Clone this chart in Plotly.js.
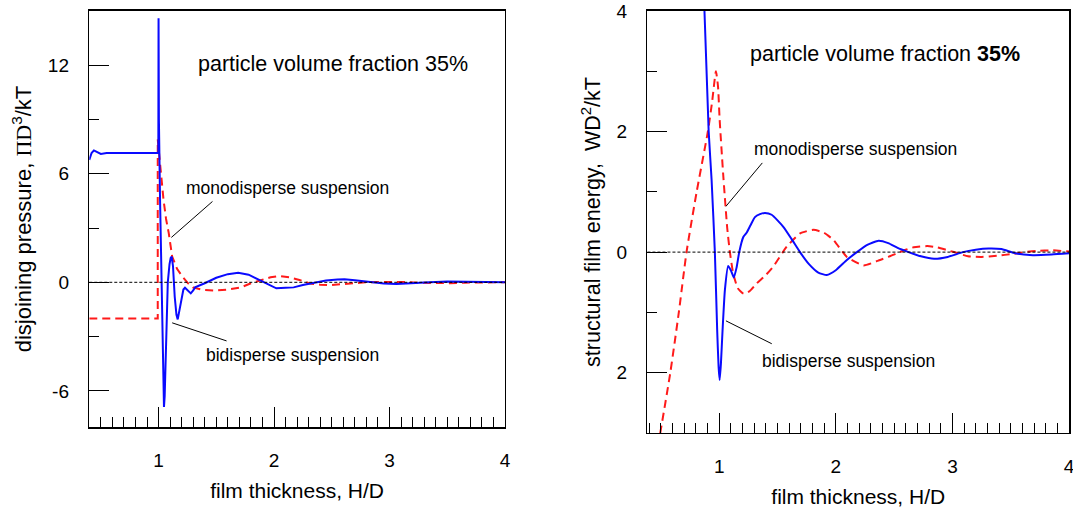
<!DOCTYPE html>
<html>
<head>
<meta charset="utf-8">
<script src="https://cdn.plot.ly/plotly-3.0.1.min.js"></script>
<style>html,body{margin:0;padding:0;background:#fff;}#chart{width:1073px;height:513px;}</style>
</head>
<body>
<div id="chart"></div>
<script>
// ---- Left panel: disjoining pressure ----
const leftBiX = [0.40, 0.42, 0.44, 0.47, 0.50, 0.55, 0.70, 0.85, 0.998, 1.0, 1.003, 1.013, 1.025, 1.035, 1.043, 1.047, 1.053, 1.065, 1.08, 1.095, 1.105, 1.114, 1.125, 1.14, 1.155, 1.166, 1.18, 1.20, 1.215, 1.229, 1.25, 1.279, 1.30, 1.316, 1.40, 1.50, 1.60, 1.69, 1.78, 1.85, 1.91, 1.97, 2.02, 2.10, 2.17, 2.25, 2.34, 2.45, 2.55, 2.61, 2.70, 2.85, 2.95, 3.06, 3.20, 3.35, 3.50, 3.60, 3.75, 3.90, 4.00];
const leftBiY = [6.77, 7.15, 7.29, 7.18, 7.10, 7.15, 7.15, 7.15, 7.15, 14.6, 9.0, 4.56, 0.0, -4.0, -6.3, -6.89, -6.3, -3.0, 0.0, 1.0, 1.35, 1.42, 0.9, -0.8, -1.8, -2.05, -1.6, -0.8, -0.4, -0.30, -0.45, -0.61, -0.45, -0.28, -0.05, 0.25, 0.45, 0.53, 0.42, 0.20, 0.0, -0.20, -0.33, -0.30, -0.28, -0.15, -0.02, 0.10, 0.16, 0.17, 0.12, 0.0, -0.07, -0.09, -0.06, 0.0, 0.05, 0.04, 0.0, -0.02, 0.0];
const leftMonoX = [0.40, 0.993, 0.993, 1.007, 1.025, 1.043, 1.065, 1.088, 1.118, 1.16, 1.207, 1.25, 1.297, 1.38, 1.475, 1.60, 1.714, 1.80, 1.893, 1.97, 2.042, 2.13, 2.22, 2.31, 2.40, 2.49, 2.61, 2.70, 2.79, 2.90, 3.00, 3.12, 3.25, 3.38, 3.52, 3.65, 3.80, 3.90, 4.00];
const leftMonoY = [-2.0, -2.0, 7.9, 6.96, 5.7, 4.56, 3.5, 2.73, 1.42, 0.75, 0.31, -0.02, -0.28, -0.42, -0.46, -0.40, -0.28, -0.05, 0.13, 0.28, 0.35, 0.28, 0.13, -0.06, -0.13, -0.15, -0.09, -0.04, 0.0, 0.02, 0.03, 0.02, -0.02, -0.04, -0.05, -0.02, 0.01, 0.0, 0.0];

// ---- Right panel: structural film energy ----
const rightBiX = [0.873, 0.91, 0.935, 0.963, 0.983, 0.995, 1.004, 1.015, 1.029, 1.049, 1.077, 1.10, 1.126, 1.15, 1.172, 1.207, 1.235, 1.27, 1.307, 1.35, 1.393, 1.45, 1.55, 1.62, 1.693, 1.77, 1.85, 1.923, 2.0, 2.095, 2.181, 2.27, 2.367, 2.45, 2.53, 2.624, 2.73, 2.843, 2.96, 3.09, 3.2, 3.31, 3.42, 3.54, 3.69, 3.85, 4.0];
const rightBiY = [4.05, 2.0, 1.2, 0.0, -1.3, -1.9, -2.12, -1.85, -1.30, -0.63, -0.23, -0.30, -0.42, -0.25, 0.0, 0.25, 0.32, 0.45, 0.58, 0.63, 0.65, 0.62, 0.42, 0.22, 0.0, -0.2, -0.34, -0.38, -0.3, -0.13, 0.0, 0.12, 0.19, 0.15, 0.07, 0.0, -0.07, -0.11, -0.08, 0.0, 0.04, 0.06, 0.05, -0.02, -0.05, -0.04, -0.02];
const rightMonoX = [0.494, 0.581, 0.654, 0.72, 0.807, 0.903, 0.94, 0.972, 0.99, 1.004, 1.034, 1.069, 1.092, 1.12, 1.16, 1.209, 1.26, 1.321, 1.40, 1.464, 1.579, 1.694, 1.808, 1.90, 1.98, 2.095, 2.238, 2.38, 2.45, 2.522, 2.60, 2.668, 2.784, 2.87, 2.959, 3.05, 3.134, 3.25, 3.38, 3.52, 3.62, 3.72, 3.86, 4.0];
const rightMonoY = [-3.01, -2.0, -1.0, 0.0, 1.0, 2.0, 2.5, 3.0, 2.75, 2.2, 1.3, 0.4, 0.0, -0.35, -0.6, -0.69, -0.65, -0.52, -0.38, -0.24, 0.09, 0.31, 0.37, 0.32, 0.2, -0.08, -0.22, -0.13, -0.08, -0.02, 0.04, 0.08, 0.10, 0.08, 0.03, -0.02, -0.07, -0.08, -0.06, -0.03, 0.0, 0.02, 0.03, 0.01];

// ---- Tick labels ----
const leftYTickVals = [-6, 0, 6, 12];
const leftYTickText = ['-6', '0', '6', '12'];
const rightYTickVals = [-2, 0, 2, 4];
const rightYTickText = ['2', '0', '2', '4'];
const xTickVals = [1, 2, 3, 4];
const xTickText = ['1', '2', '3', '4'];

const FONT = "'Liberation Sans', Arial, sans-serif";
const SERIF = "'Liberation Serif', 'Times New Roman', serif";
const BLUE = '#0a0aff';
const RED = '#ff1a1a';

const traces = [
  {x: leftMonoX, y: leftMonoY, xaxis: 'x', yaxis: 'y', mode: 'lines', name: 'monodisperse suspension',
   line: {color: RED, width: 2, dash: '8px,5px'}},
  {x: leftBiX, y: leftBiY, xaxis: 'x', yaxis: 'y', mode: 'lines', name: 'bidisperse suspension',
   line: {color: BLUE, width: 2}},
  {x: rightMonoX, y: rightMonoY, xaxis: 'x2', yaxis: 'y2', mode: 'lines', name: 'monodisperse suspension',
   line: {color: RED, width: 2, dash: '8px,5px', shape: 'spline', smoothing: 0.5}},
  {x: rightBiX, y: rightBiY, xaxis: 'x2', yaxis: 'y2', mode: 'lines', name: 'bidisperse suspension',
   line: {color: BLUE, width: 2, shape: 'spline', smoothing: 0.5}}
];

function xAxis(domain, range, anchor) {
  return {
    domain: domain, range: range, anchor: anchor,
    showline: true, mirror: true, linecolor: '#000', linewidth: 1.5,
    showgrid: false, zeroline: false,
    ticks: 'inside', ticklen: 20, tickwidth: 1, tickcolor: '#000',
    tickmode: 'array', tickvals: xTickVals, ticktext: xTickText,
    tickfont: {family: FONT, size: 19, color: '#000'},
    ticklabelstandoff: 16, ticklabeloverflow: 'allow',
    minor: {dtick: 0.1, tick0: 0, ticks: 'inside', ticklen: 10, tickwidth: 1, tickcolor: '#000', showgrid: false},
    title: {text: 'film thickness, H/D', font: {family: FONT, size: 21, color: '#000'}, standoff: 13}
  };
}
function yAxis(domain, range, anchor, vals, text, minorD, title, tsize) {
  return {
    domain: domain, range: range, anchor: anchor,
    showline: true, mirror: true, linecolor: '#000', linewidth: 1.5,
    showgrid: false, zeroline: false,
    ticks: 'inside', ticklen: 20, tickwidth: 1, tickcolor: '#000',
    tickmode: 'array', tickvals: vals, ticktext: text,
    tickfont: {family: FONT, size: 19, color: '#000'},
    ticklabelstandoff: 15, ticklabeloverflow: 'allow',
    minor: {dtick: minorD, tick0: 0, ticks: 'inside', ticklen: 10, tickwidth: 1, tickcolor: '#000', showgrid: false},
    title: {text: title, font: {family: FONT, size: tsize, color: '#000'}, standoff: 10}
  };
}

const layout = {
  width: 1073, height: 513,
  margin: {l: 0, r: 0, t: 0, b: 0},
  paper_bgcolor: '#fff', plot_bgcolor: '#fff',
  showlegend: false,
  font: {family: FONT, color: '#000'},
  xaxis: xAxis([0.0832, 0.4706], [0.4, 4], 'y'),
  yaxis: yAxis([0.1676, 0.9786], [-8, 15], 'x', leftYTickVals, leftYTickText, 3,
    'disjoining pressure, <span style="font-family:' + SERIF + '">ΠD</span><sup>3</sup>/kT', 22),
  xaxis2: xAxis([0.6034, 0.9963], [0.385, 4], 'y2'),
  yaxis2: yAxis([0.156, 0.9786], [-3, 4], 'x2', rightYTickVals, rightYTickText, 1,
    'structural film energy,  WD<sup>2</sup>/kT', 21.5),
  shapes: [
    {type: 'line', xref: 'x domain', yref: 'y', x0: 0, x1: 1, y0: 0, y1: 0, line: {color: '#000', width: 1, dash: '3px,2px'}},
    {type: 'line', xref: 'x2 domain', yref: 'y2', x0: 0, x1: 1, y0: 0, y1: 0, line: {color: '#000', width: 1, dash: '3px,2px'}},
    // label pointer lines
    {type: 'line', xref: 'x', yref: 'y', x0: 1.111, y0: 2.48, x1: 1.467, y1: 4.47, line: {color: '#000', width: 1}},
    {type: 'line', xref: 'x', yref: 'y', x0: 1.118, y0: -2.24, x1: 1.589, y1: -3.24, line: {color: '#000', width: 1}},
    {type: 'line', xref: 'x2', yref: 'y2', x0: 1.058, y0: 0.76, x1: 1.37, y1: 1.48, line: {color: '#000', width: 1}},
    {type: 'line', xref: 'x2', yref: 'y2', x0: 1.058, y0: -1.14, x1: 1.451, y1: -1.52, line: {color: '#000', width: 1}}
  ],
  annotations: [
    {xref: 'x', yref: 'y', x: 2.512, y: 12.09, text: 'particle volume fraction 35%', showarrow: false,
     font: {family: FONT, size: 21.5, color: '#000'}},
    {xref: 'x', yref: 'y', x: 2.113, y: 5.22, text: 'monodisperse suspension', showarrow: false,
     font: {family: FONT, size: 17.5, color: '#000'}},
    {xref: 'x', yref: 'y', x: 2.156, y: -4.03, text: 'bidisperse suspension', showarrow: false,
     font: {family: FONT, size: 17.5, color: '#000'}},
    {xref: 'x2', yref: 'y2', x: 2.425, y: 3.29, text: 'particle volume fraction <b>35%</b>', showarrow: false,
     font: {family: FONT, size: 21.5, color: '#000'}},
    {xref: 'x2', yref: 'y2', x: 2.171, y: 1.71, text: 'monodisperse suspension', showarrow: false,
     font: {family: FONT, size: 17.5, color: '#000'}},
    {xref: 'x2', yref: 'y2', x: 2.107, y: -1.81, text: 'bidisperse suspension', showarrow: false,
     font: {family: FONT, size: 17.5, color: '#000'}}
  ]
};

Plotly.newPlot('chart', traces, layout, {displayModeBar: false, staticPlot: true});
</script>
</body>
</html>
